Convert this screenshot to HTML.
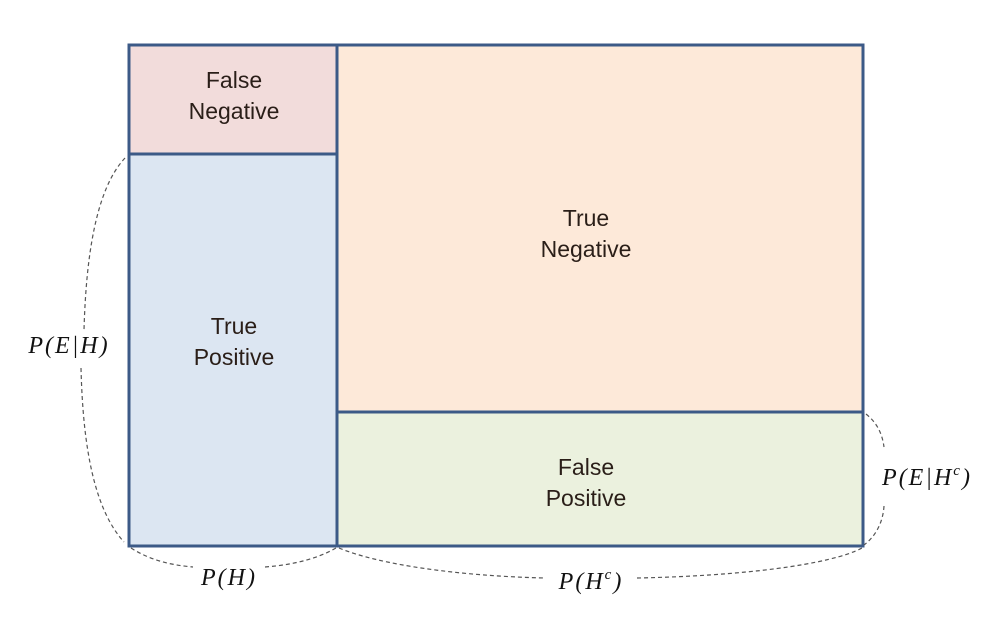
<!DOCTYPE html>
<html><head><meta charset="utf-8"><style>
html,body{margin:0;padding:0;background:#fff;}
svg{display:block;}
.t{font-family:"Liberation Sans",sans-serif;font-size:23px;fill:#2a1e18;text-anchor:middle;}
.m{font-family:"Liberation Serif",serif;font-style:italic;font-size:24px;fill:#111;text-anchor:middle;letter-spacing:2px;}
.d{fill:none;stroke:#555;stroke-width:1.2;stroke-dasharray:4,3;}
</style></head><body>
<svg width="996" height="621" viewBox="0 0 996 621" xmlns="http://www.w3.org/2000/svg">
<rect x="129" y="45" width="208" height="109" fill="#f2dcdb"/>
<rect x="129" y="154" width="208" height="392" fill="#dce6f2"/>
<rect x="337" y="45" width="526" height="367" fill="#fde9d9"/>
<rect x="337" y="412" width="526" height="134" fill="#ebf1de"/>
<g stroke="#3c5a87" stroke-width="3" fill="none">
<rect x="129" y="45" width="734" height="501"/>
<line x1="337" y1="45" x2="337" y2="546"/>
<line x1="129" y1="154" x2="337" y2="154"/>
<line x1="337" y1="412" x2="863" y2="412"/>
</g>
<text class="t" x="234" y="88">False</text>
<text class="t" x="234" y="119">Negative</text>
<text class="t" x="234" y="334">True</text>
<text class="t" x="234" y="365">Positive</text>
<text class="t" x="586" y="226">True</text>
<text class="t" x="586" y="257">Negative</text>
<text class="t" x="586" y="475">False</text>
<text class="t" x="586" y="506">Positive</text>
<path class="d" d="M125,158 C95,190 86,260 84,330"/>
<path class="d" d="M81,368 C83,450 95,510 124,542"/>
<path class="d" d="M131,548 C150,560 170,565 193,567"/>
<path class="d" d="M265,567 C290,565 315,560 336,548"/>
<path class="d" d="M339,548 C380,565 460,576 545,578"/>
<path class="d" d="M637,578 C740,576 830,565 862,548"/>
<path class="d" d="M866,414 C876,422 882,432 884,447"/>
<path class="d" d="M884,506 C883,522 876,536 864,545"/>
<text class="m" x="69" y="353">P(E|H)</text>
<text class="m" x="229" y="585">P(H)</text>
<text class="m" x="591" y="589">P(H<tspan font-size="15" dy="-10">c</tspan><tspan dy="10">)</tspan></text>
<text class="m" x="927" y="485">P(E|H<tspan font-size="15" dy="-10">c</tspan><tspan dy="10">)</tspan></text>
</svg>
</body></html>
